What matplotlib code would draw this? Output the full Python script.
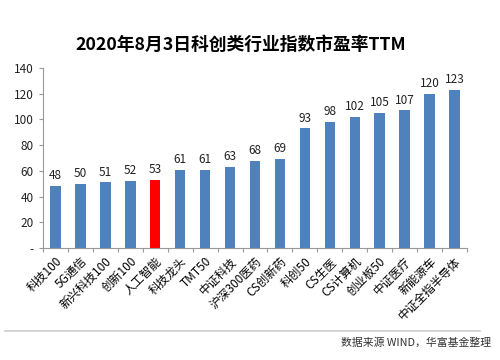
import matplotlib
matplotlib.use('Agg')
import matplotlib.pyplot as plt
from matplotlib.lines import Line2D

plt.rcParams['font.family'] = ['Noto Sans CJK SC', 'DejaVu Sans']

names = ['科技100', '5G通信', '新兴科技100', '创新100', '人工智能', '科技龙头', 'TMT50',
         '中证科技', '沪深300医药', 'CS创新药', '科创50', 'CS生医', 'CS计算机', '创业板50',
         '中证医疗', '新能源车', '中证全指半导体']
pe_ttm = [48, 50, 51, 52, 53, 61, 61, 63, 68, 69, 93, 98, 102, 105, 107, 120, 123]
highlight = '人工智能'
yticks = [0, 20, 40, 60, 80, 100, 120, 140]
ytick_labels = ['-', '20', '40', '60', '80', '100', '120', '140']

fig = plt.figure(figsize=(5.0, 3.6), dpi=100)
ax = fig.add_axes([0.086, 0.311, 0.848, 0.5])

colors = ['#FF0000' if n == highlight else '#4F81BD' for n in names]
x = list(range(len(names)))
bars = ax.bar(x, pe_ttm, width=0.42, color=colors)
for b, v in zip(bars, pe_ttm):
    ax.text(b.get_x() + b.get_width() / 2, v + 3, str(v), ha='center', va='bottom',
            fontsize=8.5, color='#222222')

ax.set_xlim(-0.5, len(names) - 0.5)
ax.set_ylim(0, 140)
ax.set_yticks(yticks)
ax.set_yticklabels(ytick_labels, fontsize=8.5, color='#222222')
ax.set_xticks([i - 0.5 for i in range(len(names) + 1)], minor=False)
ax.set_xticklabels([])
ax.set_xticks(x, minor=True)
ax.set_xticklabels(names, minor=True, rotation=45, ha='right', va='top',
                   fontsize=8.5, rotation_mode='anchor')
ax.tick_params(axis='x', which='minor', length=0, pad=5)
ax.tick_params(axis='x', which='major', length=3, color='#999999', direction='out')
ax.tick_params(axis='y', length=3, color='#999999', direction='out')
for s in ['top', 'right']:
    ax.spines[s].set_visible(False)
for s in ['left', 'bottom']:
    ax.spines[s].set_color('#999999')

fig.text(0.482, 0.875, '2020年8月3日科创类行业指数市盈率TTM', ha='center', va='center',
         fontsize=12.8, fontweight='bold')
fig.add_artist(Line2D([0.01, 0.96], [0.081, 0.081], color='#cccccc', lw=1.2,
                      transform=fig.transFigure))
fig.text(0.982, 0.048, '数据来源 WIND，华富基金整理', ha='right', va='center',
         fontsize=7.8, color='#333333')

fig.savefig('out.png', dpi=100, facecolor='white')
